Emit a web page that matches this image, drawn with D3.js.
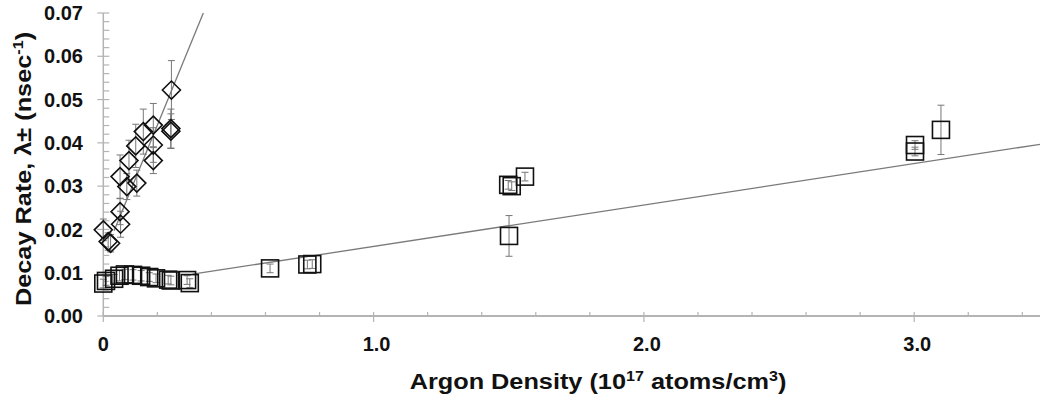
<!DOCTYPE html>
<html><head><meta charset="utf-8">
<script src="https://cdn.jsdelivr.net/npm/d3@7"></script>
<style>body{margin:0;background:#fff}svg{display:block}</style>
</head><body>
<svg id="c" width="1040" height="400"></svg>
<script>
// Diamonds series
const diamondX = [0.0, 0.018, 0.027, 0.062, 0.064, 0.062, 0.087, 0.095, 0.124, 0.12, 0.148, 0.185, 0.185, 0.185, 0.25, 0.25, 0.252];
const diamondY = [0.0199, 0.0172, 0.0168, 0.0241, 0.0212, 0.0322, 0.0299, 0.0359, 0.0307, 0.0393, 0.0426, 0.0359, 0.0395, 0.0441, 0.0433, 0.0427, 0.0522];
const diamondErr = [0.0025, 0.002, 0.002, 0.003, 0.003, 0.005, 0.003, 0.0047, 0.003, 0.005, 0.0052, 0.003, 0.004, 0.005, 0.0045, 0.004, 0.0068];
// Squares series
const squareX = [0.0, 0.01, 0.04, 0.06, 0.08, 0.11, 0.14, 0.17, 0.195, 0.24, 0.25, 0.31, 0.32, 0.617, 0.755, 0.773, 1.498, 1.511, 1.56, 1.501, 3.003, 3.003, 3.099];
const squareY = [0.0075, 0.0081, 0.0086, 0.0093, 0.0096, 0.0095, 0.0093, 0.0090, 0.0087, 0.0084, 0.0082, 0.0083, 0.0076, 0.0110, 0.0119, 0.0120, 0.0303, 0.0300, 0.0322, 0.0185, 0.0395, 0.0380, 0.0430];
const squareErr = [0.001, 0.001, 0.001, 0.0012, 0.0012, 0.0012, 0.0012, 0.001, 0.001, 0.001, 0.001, 0.001, 0.001, 0.001, 0.001, 0.001, 0.001, 0.001, 0.001, 0.0047, 0.001, 0.001, 0.0057];
// Fit lines (x endpoints, y endpoints)
const fitDiamondX = [0.04, 0.37];
const fitDiamondY = [0.0197, 0.0700];
const fitSquareX = [0.33, 3.5];
const fitSquareY = [0.00966, 0.0400];
// Tick labels
const xTicks = [0, 1, 2, 3];
const xTickLabels = ["0", "1.0", "2.0", "3.0"];
const yTicks = [0, 0.01, 0.02, 0.03, 0.04, 0.05, 0.06, 0.07];
const yTickLabels = ["0.00", "0.01", "0.02", "0.03", "0.04", "0.05", "0.06", "0.07"];

const svg = d3.select("#c");
const x = d3.scaleLinear().domain([0, 3.5]).range([103.3, 103.3 + 3.5 * 270.3]);
const y = d3.scaleLinear().domain([0, 0.07]).range([316, 13]);
const axisCol = "#b4b4b4";
const font = "'Liberation Sans', Arial, sans-serif";

// Y axis
const gy = svg.append("g");
gy.append("line").attr("x1", x(0)).attr("x2", x(0)).attr("y1", y(0.07)).attr("y2", y(0))
  .attr("stroke", axisCol).attr("stroke-width", 1.5);
d3.range(0, 36).forEach(i => {
  const v = i * 0.002;
  if (v > 0.0701) return;
  const major = i % 5 === 0;
  gy.append("line").attr("x1", major ? x(0) - 6 : x(0)).attr("x2", x(0) + 6)
    .attr("y1", y(v)).attr("y2", y(v)).attr("stroke", axisCol).attr("stroke-width", 1.2);
});
yTicks.forEach((v, i) => {
  gy.append("text").attr("x", 83).attr("y", y(v)).attr("dy", "0.36em")
    .attr("text-anchor", "end").attr("font-family", font).attr("font-weight", "bold")
    .attr("font-size", 20).attr("fill", "#111").text(yTickLabels[i]);
});

// X axis
const gx = svg.append("g");
gx.append("line").attr("x1", x(0)).attr("x2", 1040).attr("y1", y(0)).attr("y2", y(0))
  .attr("stroke", axisCol).attr("stroke-width", 1.8);
d3.range(0, 18).forEach(i => {
  const v = i * 0.2;
  const major = i % 5 === 0;
  gx.append("line").attr("x1", x(v)).attr("x2", x(v))
    .attr("y1", y(0) - 4).attr("y2", major ? y(0) + 6 : y(0))
    .attr("stroke", axisCol).attr("stroke-width", 1.2);
});
xTicks.forEach((v, i) => {
  gx.append("text").attr("x", x(v) + (i ? 3 : 0)).attr("y", 351)
    .attr("text-anchor", "middle").attr("font-family", font).attr("font-weight", "bold")
    .attr("font-size", 20).attr("fill", "#111").text(xTickLabels[i]);
});

// Axis titles
const xt = svg.append("text").attr("transform", "translate(598,389) scale(1.15,1)").attr("text-anchor", "middle")
  .attr("font-family", font).attr("font-weight", "bold").attr("font-size", 22).attr("fill", "#111");
xt.append("tspan").text("Argon Density (10");
xt.append("tspan").attr("font-size", 14).attr("dy", -8).text("17");
xt.append("tspan").attr("dy", 8).text(" atoms/cm");
xt.append("tspan").attr("font-size", 14).attr("dy", -8).text("3");
xt.append("tspan").attr("dy", 8).text(")");

const yt = svg.append("text").attr("transform", "translate(31,169) rotate(-90) scale(1.15,1)").attr("text-anchor", "middle")
  .attr("font-family", font).attr("font-weight", "bold").attr("font-size", 22).attr("fill", "#111");
yt.append("tspan").text("Decay Rate, λ± (nsec");
yt.append("tspan").attr("font-size", 14).attr("dy", -8).text("-1");
yt.append("tspan").attr("dy", 8).text(")");

// Fit lines
const line = d3.line().x(d => x(d[0])).y(d => y(d[1]));
svg.append("path").attr("d", line(d3.zip(fitDiamondX, fitDiamondY)))
  .attr("fill", "none").attr("stroke", "#7a7a7a").attr("stroke-width", 1.3);
svg.append("path").attr("d", line(d3.zip(fitSquareX, fitSquareY)))
  .attr("fill", "none").attr("stroke", "#7a7a7a").attr("stroke-width", 1.3);

// Error bars
function errBars(xs, ys, es) {
  const g = svg.append("g").attr("stroke", "#777").attr("stroke-width", 1);
  xs.forEach((xv, i) => {
    const cx = x(xv), t = y(ys[i] + es[i]), b = y(ys[i] - es[i]);
    g.append("line").attr("x1", cx).attr("x2", cx).attr("y1", t).attr("y2", b);
    g.append("line").attr("x1", cx - 3.5).attr("x2", cx + 3.5).attr("y1", t).attr("y2", t);
    g.append("line").attr("x1", cx - 3.5).attr("x2", cx + 3.5).attr("y1", b).attr("y2", b);
  });
}
errBars(diamondX, diamondY, diamondErr);
errBars(squareX, squareY, squareErr);

// Markers
const gd = svg.append("g");
diamondX.forEach((xv, i) => {
  const cx = x(xv), cy = y(diamondY[i]), r = 9;
  gd.append("path").attr("d", `M${cx},${cy - r}L${cx + r},${cy}L${cx},${cy + r}L${cx - r},${cy}Z`)
    .attr("fill", "none").attr("stroke", "#111").attr("stroke-width", 1.6);
});
const gs = svg.append("g");
squareX.forEach((xv, i) => {
  const cx = x(xv), cy = y(squareY[i]), h = 8.5;
  gs.append("rect").attr("x", cx - h).attr("y", cy - h).attr("width", 2 * h).attr("height", 2 * h)
    .attr("fill", "none").attr("stroke", "#111").attr("stroke-width", 1.6);
});
</script>
</body></html>
